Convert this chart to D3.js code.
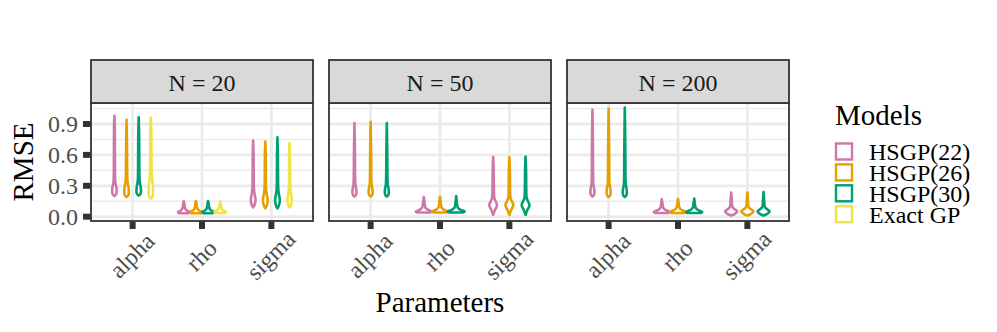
<!DOCTYPE html>
<html>
<head>
<meta charset="utf-8">
<script src="https://cdn.jsdelivr.net/npm/d3@7"></script>
<style>
  body { margin: 0; background: #fff; }
  text { font-family: "Liberation Serif", "Times New Roman", serif; }
</style>
</head>
<body>
<div id="chart"></div>
<script>
// categories
var models = ["HSGP(22)", "HSGP(26)", "HSGP(30)", "Exact GP"];
var colors = ["#CC79A7", "#E69F00", "#009E73", "#F0E442"];
var panels = ["N = 20", "N = 50", "N = 200"];
var params = ["alpha", "rho", "sigma"];
var yTicks = [0, 0.3, 0.6, 0.9];
var yMinor = [0.15, 0.45, 0.75, 1.05];

// violin profiles: [RMSE, relative density] per model
var n20Alpha = [
  [[0.20,0],[0.215,0.25],[0.24,0.36],[0.27,0.36],[0.30,0.26],[0.34,0.14],[0.42,0.1],[0.6,0.08],[0.85,0.07],[0.98,0]],
  [[0.19,0],[0.205,0.25],[0.23,0.38],[0.27,0.36],[0.31,0.24],[0.36,0.13],[0.45,0.1],[0.65,0.08],[0.94,0]],
  [[0.205,0],[0.22,0.26],[0.245,0.38],[0.28,0.34],[0.32,0.22],[0.38,0.12],[0.5,0.1],[0.75,0.08],[0.965,0]],
  [[0.175,0],[0.19,0.25],[0.23,0.36],[0.28,0.36],[0.34,0.26],[0.42,0.14],[0.55,0.1],[0.8,0.08],[0.96,0]]
];
var n20Rho = [
  [[0.033,0.75],[0.04,0.95],[0.05,0.85],[0.06,0.5],[0.075,0.28],[0.09,0.18],[0.11,0.12],[0.13,0.08],[0.15,0]],
  [[0.033,0.75],[0.04,0.95],[0.05,0.85],[0.06,0.5],[0.075,0.28],[0.09,0.18],[0.11,0.12],[0.13,0.08],[0.152,0]],
  [[0.033,0.75],[0.04,0.95],[0.05,0.85],[0.06,0.5],[0.075,0.28],[0.09,0.18],[0.11,0.12],[0.13,0.08],[0.152,0]],
  [[0.035,0.75],[0.042,0.95],[0.052,0.85],[0.062,0.5],[0.077,0.28],[0.09,0.18],[0.11,0.11],[0.125,0.07],[0.145,0]]
];
var n20Sigma = [
  [[0.09,0],[0.11,0.2],[0.14,0.34],[0.17,0.38],[0.2,0.3],[0.24,0.18],[0.3,0.11],[0.4,0.09],[0.6,0.07],[0.74,0]],
  [[0.08,0],[0.105,0.22],[0.14,0.36],[0.17,0.38],[0.2,0.3],[0.24,0.18],[0.3,0.11],[0.4,0.09],[0.6,0.07],[0.73,0]],
  [[0.08,0],[0.105,0.22],[0.14,0.36],[0.17,0.38],[0.2,0.3],[0.24,0.18],[0.3,0.11],[0.4,0.09],[0.6,0.07],[0.77,0]],
  [[0.09,0],[0.11,0.2],[0.14,0.32],[0.17,0.34],[0.2,0.28],[0.24,0.17],[0.3,0.11],[0.4,0.09],[0.6,0.07],[0.715,0]]
];
var n50Alpha = [
  [[0.195,0],[0.21,0.18],[0.235,0.25],[0.26,0.24],[0.29,0.17],[0.33,0.1],[0.4,0.08],[0.6,0.06],[0.91,0]],
  [[0.195,0],[0.21,0.18],[0.235,0.25],[0.26,0.24],[0.29,0.17],[0.33,0.1],[0.4,0.08],[0.6,0.06],[0.92,0]],
  [[0.195,0],[0.21,0.18],[0.235,0.25],[0.26,0.24],[0.29,0.17],[0.33,0.1],[0.4,0.08],[0.6,0.06],[0.91,0]]
];
var n50Rho = [
  [[0.04,0.8],[0.05,1.0],[0.06,0.7],[0.075,0.35],[0.09,0.2],[0.11,0.12],[0.14,0.08],[0.19,0]],
  [[0.04,0.8],[0.05,1.0],[0.06,0.7],[0.075,0.35],[0.09,0.2],[0.11,0.12],[0.14,0.08],[0.195,0]],
  [[0.04,0.85],[0.05,1.05],[0.06,0.75],[0.075,0.37],[0.09,0.2],[0.11,0.12],[0.14,0.08],[0.2,0]]
];
var n50Sigma = [
  [[0.017,0],[0.04,0.1],[0.07,0.25],[0.1,0.45],[0.12,0.47],[0.145,0.33],[0.17,0.18],[0.21,0.1],[0.3,0.08],[0.45,0.06],[0.58,0]],
  [[0.017,0],[0.04,0.1],[0.07,0.25],[0.1,0.45],[0.12,0.47],[0.145,0.33],[0.17,0.18],[0.21,0.1],[0.3,0.08],[0.45,0.06],[0.58,0]],
  [[0.017,0],[0.04,0.1],[0.07,0.25],[0.1,0.45],[0.12,0.47],[0.145,0.33],[0.17,0.18],[0.21,0.1],[0.3,0.08],[0.45,0.06],[0.585,0]]
];
var n200Alpha = [
  [[0.195,0],[0.21,0.18],[0.235,0.25],[0.26,0.24],[0.29,0.17],[0.33,0.1],[0.4,0.08],[0.7,0.06],[1.04,0]],
  [[0.19,0],[0.205,0.18],[0.23,0.25],[0.26,0.24],[0.29,0.17],[0.33,0.1],[0.4,0.08],[0.7,0.06],[1.05,0]],
  [[0.19,0],[0.205,0.18],[0.23,0.25],[0.26,0.24],[0.29,0.17],[0.33,0.1],[0.4,0.08],[0.7,0.06],[1.06,0]]
];
var n200Rho = [
  [[0.035,0.8],[0.045,1.0],[0.055,0.75],[0.07,0.38],[0.085,0.2],[0.1,0.12],[0.13,0.08],[0.17,0]],
  [[0.035,0.8],[0.045,1.0],[0.055,0.75],[0.07,0.38],[0.085,0.2],[0.1,0.12],[0.13,0.08],[0.172,0]],
  [[0.035,0.8],[0.045,1.0],[0.055,0.75],[0.07,0.38],[0.085,0.2],[0.1,0.12],[0.13,0.08],[0.175,0]]
];
var n200Sigma = [
  [[0.01,0],[0.025,0.4],[0.05,0.75],[0.07,0.48],[0.09,0.2],[0.11,0.11],[0.15,0.08],[0.235,0]],
  [[0.01,0],[0.025,0.4],[0.05,0.75],[0.07,0.48],[0.09,0.2],[0.11,0.11],[0.15,0.08],[0.235,0]],
  [[0.01,0],[0.025,0.4],[0.05,0.75],[0.07,0.48],[0.09,0.2],[0.11,0.11],[0.15,0.08],[0.24,0]]
];
var violins = [
  [n20Alpha, n20Rho, n20Sigma],
  [n50Alpha, n50Rho, n50Sigma],
  [n200Alpha, n200Rho, n200Sigma]
];

var W = 997, H = 332;
var panelTop = 103, panelBottom = 221, stripTop = 60;
var panelW = 222, gap = 16, left0 = 91;
var small = 24, big = 29;

var svg = d3.select("#chart").append("svg")
  .attr("width", W).attr("height", H);

var y = d3.scaleLinear().domain([-0.042, 1.104]).range([panelBottom, panelTop]);

var area = d3.area()
  .curve(d3.curveMonotoneY);

panels.forEach(function(p, pi) {
  var px = left0 + pi * (panelW + gap);
  var x = d3.scalePoint().domain(params).range([px, px + panelW]).padding(0.6);
  var g = svg.append("g");

  g.append("rect").attr("x", px).attr("y", panelTop)
    .attr("width", panelW).attr("height", panelBottom - panelTop).attr("fill", "#fff");

  // grid
  g.selectAll(".minor").data(yMinor).enter().append("line")
    .attr("x1", px).attr("x2", px + panelW)
    .attr("y1", function(d) { return y(d); }).attr("y2", function(d) { return y(d); })
    .attr("stroke", "#EBEBEB").attr("stroke-width", 1.5);
  g.selectAll(".major").data(yTicks).enter().append("line")
    .attr("x1", px).attr("x2", px + panelW)
    .attr("y1", function(d) { return y(d); }).attr("y2", function(d) { return y(d); })
    .attr("stroke", "#EBEBEB").attr("stroke-width", 2.8);
  g.selectAll(".vmajor").data(params).enter().append("line")
    .attr("x1", function(d) { return x(d); }).attr("x2", function(d) { return x(d); })
    .attr("y1", panelTop).attr("y2", panelBottom)
    .attr("stroke", "#EBEBEB").attr("stroke-width", 2.8);

  // violins
  var data = violins[pi];
  var k = data[0].length;
  var slot = 0.7 * x.step() / k;
  params.forEach(function(par, ci) {
    data[ci].forEach(function(prof, mi) {
      var cx = x(par) + (mi - (k - 1) / 2) * slot;
      var half = slot / 2;
      area.y(function(d) { return y(d[0]); })
        .x0(function(d) { return cx - d[1] * half; })
        .x1(function(d) { return cx + d[1] * half; });
      g.append("path").attr("d", area(prof))
        .attr("fill", "#fff").attr("stroke", colors[mi])
        .attr("stroke-width", 2.6).attr("stroke-linejoin", "round");
    });
  });

  // border
  g.append("rect").attr("x", px).attr("y", panelTop)
    .attr("width", panelW).attr("height", panelBottom - panelTop)
    .attr("fill", "none").attr("stroke", "#333333").attr("stroke-width", 1.8);

  // strip
  g.append("rect").attr("x", px).attr("y", stripTop)
    .attr("width", panelW).attr("height", panelTop - stripTop)
    .attr("fill", "#D9D9D9").attr("stroke", "#333333").attr("stroke-width", 1.8);
  g.append("text").attr("x", px + panelW / 2).attr("y", 90.5)
    .attr("text-anchor", "middle").attr("font-size", small).attr("fill", "#1A1A1A")
    .text(p);

  // x ticks + labels
  g.selectAll(".xt").data(params).enter().append("line")
    .attr("x1", function(d) { return x(d); }).attr("x2", function(d) { return x(d); })
    .attr("y1", panelBottom + 0.5).attr("y2", panelBottom + 8)
    .attr("stroke", "#333333").attr("stroke-width", 6);
  g.selectAll(".xl").data(params).enter().append("text")
    .attr("transform", function(d) { return "translate(" + x(d) + ",256) rotate(-45)"; })
    .attr("text-anchor", "middle").attr("dy", "0.3em")
    .attr("font-size", small).attr("fill", "#4D4D4D")
    .text(function(d) { return d; });
});

// y axis ticks + labels
svg.selectAll(".yt").data(yTicks).enter().append("line")
  .attr("x1", 83).attr("x2", 90.5)
  .attr("y1", function(d) { return y(d); }).attr("y2", function(d) { return y(d); })
  .attr("stroke", "#333333").attr("stroke-width", 6);
svg.selectAll(".yl").data(yTicks).enter().append("text")
  .attr("x", 78).attr("y", function(d) { return y(d); }).attr("dy", "0.35em")
  .attr("text-anchor", "end").attr("font-size", small).attr("fill", "#4D4D4D")
  .text(function(d) { return d3.format(".1f")(d); });

// axis titles
svg.append("text").attr("transform", "translate(33," + (panelTop + panelBottom) / 2 + ") rotate(-90)")
  .attr("text-anchor", "middle").attr("font-size", big).attr("fill", "#000")
  .text("RMSE");
svg.append("text").attr("x", left0 + (3 * panelW + 2 * gap) / 2).attr("y", 312)
  .attr("text-anchor", "middle").attr("font-size", big).attr("fill", "#000")
  .text("Parameters");

// legend
var lg = svg.append("g");
lg.append("text").attr("x", 835).attr("y", 125).attr("font-size", big).attr("fill", "#000").text("Models");
var items = lg.selectAll(".li").data(models).enter().append("g")
  .attr("transform", function(d, i) { return "translate(835," + (142.5 + i * 20.9) + ")"; });
items.append("rect").attr("x", 1).attr("y", 1).attr("width", 16).attr("height", 16)
  .attr("fill", "#fff").attr("stroke", function(d, i) { return colors[i]; }).attr("stroke-width", 2.4);
items.append("text").attr("x", 34).attr("y", 9).attr("dy", "0.35em")
  .attr("font-size", small).attr("fill", "#000").text(function(d) { return d; });
</script>
</body>
</html>
